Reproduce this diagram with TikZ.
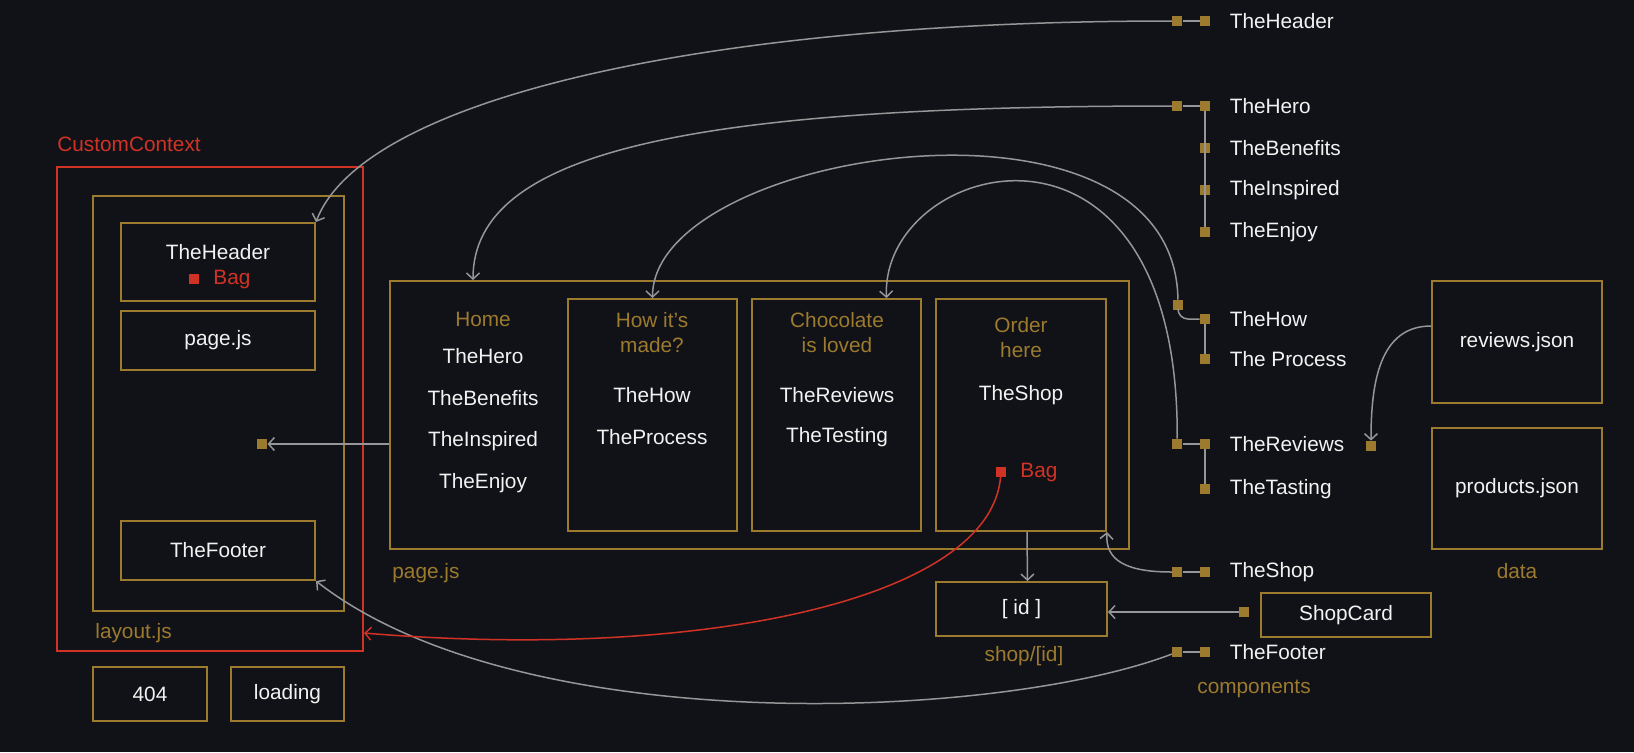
\documentclass[tikz,border=0pt]{standalone}
\usepackage{fontspec}
\setmainfont{Liberation Sans}
\usetikzlibrary{positioning,fit,arrows.meta}
\definecolor{bg}{RGB}{17,18,23}
\definecolor{gold}{RGB}{156,122,46}
\definecolor{bagred}{RGB}{209,50,38}
\definecolor{wire}{RGB}{150,150,152}
\definecolor{fg}{RGB}{242,242,242}

\begin{document}
\begin{tikzpicture}[x=0.5pt, y=-0.5pt, font=\fontsize{10.4}{12.5}\selectfont,
  box/.style={draw=gold, line width=1pt, inner sep=0pt, text=fg},
  inbox/.style={label={[lbl]center:#1}},
  sq/.style={fill=gold, minimum size=5pt, inner sep=0pt},
  redsq/.style={fill=bagred, minimum size=4.6pt, inner sep=0pt},
  lbl/.style={text=fg, inner sep=0pt},
  gtxt/.style={text=gold, inner sep=0pt},
  link/.style={draw=wire, line width=0.75pt},
  conn/.style={link, -{Straight Barb[length=3pt,width=6.5pt]}}]
\fill[bg] (0,0) rectangle (1634,752);

\node[gtxt, text=bagred, anchor=west] (ctxlbl) at (57,144) {CustomContext};
\node[box, draw=bagred, fit={(57,167) (363,651)}] (ctx) {};
\node[box, fit={(93,196) (344,611)}] (layout) {};
\node[gtxt, anchor=west] (layoutlbl) at (95,633) {layout.js};
\node[box, fit={(121,223) (315,301)}] (hdr) {};
\node[lbl] (hdrtxt) at (218,252) {TheHeader};
\node[redsq] (bag1) at (194,279) {};
\node[gtxt, text=bagred, right=7pt of bag1] (bag1txt) {Bag};
\node[box, fit={(121,311) (315,370)}, inbox=page.js] (pg1) {};
\node[sq] (slot) at (262,444) {};
\node[box, fit={(121,521) (315,580)}, inbox=TheFooter] (ftr) {};
\node[box, fit={(93,667) (207,721)}, inbox=404] (nf) {};
\node[box, fit={(231,667) (344,721)}, inbox=loading] (ld) {};

\node[box, fit={(390,281) (1129,549)}] (page) {};
\node[gtxt, anchor=west] (pagelbl) at (392,573) {page.js};
\node[gtxt] (home) at (483,319) {Home};
\node[lbl] (home1) at (483,356) {TheHero};
\node[lbl] (home2) at (483,398) {TheBenefits};
\node[lbl] (home3) at (483,441) {TheInspired};
\node[lbl] (home4) at (483,483) {TheEnjoy};

\node[box, fit={(568,299) (737,531)}] (how) {};
\node[gtxt, align=center] (howttl) at (652,333) {How it’s\\made?};
\node[lbl] (how1) at (652,395) {TheHow};
\node[lbl] (how2) at (652,437) {TheProcess};

\node[box, fit={(752,299) (921,531)}] (choc) {};
\node[gtxt, align=center] (chocttl) at (837,333) {Chocolate\\is loved};
\node[lbl] (choc1) at (837,395) {TheReviews};
\node[lbl] (choc2) at (837,437) {TheTesting};

\node[box, fit={(936,299) (1106,531)}] (order) {};
\node[gtxt, align=center] (orderttl) at (1021,338) {Order\\here};
\node[lbl] (order1) at (1021,395) {TheShop};
\node[redsq] (bag2) at (1001,472) {};
\node[gtxt, text=bagred, right=7pt of bag2] (bag2txt) {Bag};

\node[box, fit={(936,582) (1107,636)}, inbox={[ id ]}] (idbox) {};
\node[gtxt] (idlbl) at (1024,656) {shop/[id]};
\node[box, fit={(1261,593) (1431,637)}, inbox=ShopCard] (card) {};
\node[sq] (cardsq) at (1244,612) {};

\node[sq] (hdrR) at (1205,21) {};
\node[sq, left=8.5pt of hdrR] (hdrL) {};
\node[lbl, right=9.5pt of hdrR] {TheHeader};
\node[sq] (heroR) at (1205,106) {};
\node[sq, left=8.5pt of heroR] (heroL) {};
\node[lbl, right=9.5pt of heroR] {TheHero};
\node[sq] (benR) at (1205,148) {};
\node[lbl, right=9.5pt of benR] {TheBenefits};
\node[sq] (inspR) at (1205,190) {};
\node[lbl, right=9.5pt of inspR] {TheInspired};
\node[sq] (enjR) at (1205,232) {};
\node[lbl, right=9.5pt of enjR] {TheEnjoy};
\node[sq] (howR) at (1205,319) {};
\node[sq] (howL) at (1178,305) {};
\node[lbl, right=9.5pt of howR] {TheHow};
\node[sq] (procR) at (1205,359) {};
\node[lbl, right=9.5pt of procR] {The Process};
\node[sq] (revR) at (1205,444) {};
\node[sq, left=8.5pt of revR] (revL) {};
\node[lbl, right=9.5pt of revR] {TheReviews};
\node[sq] (tasteR) at (1205,489) {};
\node[lbl, right=9.5pt of tasteR] {TheTasting};
\node[sq] (shopR) at (1205,572) {};
\node[sq, left=8.5pt of shopR] (shopL) {};
\node[lbl, right=9.5pt of shopR] {TheShop};
\node[sq] (ftrR) at (1205,652) {};
\node[sq, left=8.5pt of ftrR] (ftrL) {};
\node[lbl, right=9.5pt of ftrR] {TheFooter};
\node[gtxt] (complbl) at (1254,689) {components};

\node[sq] (rvsq) at (1371,446) {};
\node[box, fit={(1432,281) (1602,403)}, inbox=reviews.json] (rvjson) {};
\node[box, fit={(1432,428) (1602,549)}, inbox=products.json] (pdjson) {};
\node[gtxt] (datalbl) at (1517,571) {data};

\draw[link] (hdrL) -- (hdrR);
\draw[link] (heroL) -- (heroR);
\draw[link] (heroR) -- (enjR);
\draw[link, rounded corners=5pt] (howL) |- (howR);
\draw[link] (howR) -- (procR);
\draw[link] (revL) -- (revR);
\draw[link] (revR) -- (tasteR);
\draw[link] (shopL) -- (shopR);
\draw[link] (ftrL) -- (ftrR);

\draw[conn] (hdrL) .. controls +(-478,0) and +(46,-122) .. (hdr.north east);
\draw[conn] (heroL) .. controls +(-478,0) and +(0,-131) .. ([xshift=42pt]page.north west);
\draw[conn] (howL) .. controls +(-3,-235) and +(0,-149) .. (how.north);
\draw[conn] (revL) .. controls +(2,-364) and +(-6,-139) .. ([xshift=25pt]choc.north);
\draw[conn] (shopL) .. controls +(-50,0) and +(-2,29) .. (order.south east);
\draw[conn] (ftrL) .. controls +(-178,68) and +(205,160) .. (ftr.south east);
\draw[conn, draw=bagred] (bag2) .. controls +(-11,128) and +(337,28) .. ([yshift=9.5pt]ctx.south east);
\draw[conn] ([yshift=8pt]rvjson.west) .. controls +(-52,0) and +(0,-62) .. (rvsq);
\draw[conn] (page.west |- slot) -- (slot);
\draw[conn] ([xshift=3pt]order.south) -- ([xshift=3pt]idbox.north);
\draw[conn] (cardsq) -- (idbox.east |- cardsq);
\end{tikzpicture}
\end{document}
